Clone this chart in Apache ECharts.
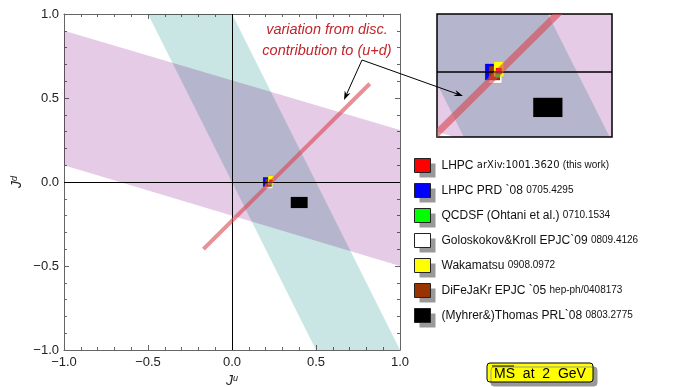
<!DOCTYPE html>
<html>
<head>
<meta charset="utf-8">
<script src="https://cdn.jsdelivr.net/npm/echarts@6/dist/echarts.min.js"></script>
<style>
html, body { margin: 0; padding: 0; background: #fff; }
#chart { width: 674px; height: 387px; }
</style>
</head>
<body>
<div id="chart"></div>
<script>
var chart = echarts.init(document.getElementById('chart'));

// bands (corners in J^u, J^d)
var magentaU = [-1, 1, 1, -1];
var magentaD = [0.9, 0.31, -0.5, 0.1];
var cyanU = [-0.5, 0, 1, 0.5];
var cyanD = [1, 1, -1, -1];

// variation from disc. contribution
var lineU = [-0.17, 0.82];
var lineD = [-0.40, 0.585];

// points, in drawing order (centre and half widths)
var names = ['LHPC PRD `08', 'Goloskokov&Kroll EPJC`09', 'DiFeJaKr EPJC `05', 'Wakamatsu', 'QCDSF (Ohtani et al.)', 'LHPC', '(Myhrer&)Thomas PRL`08'];
var colors = ['#0000ff', '#ffffff', '#993300', '#ffff00', '#00ff00', '#ff0000', '#000000'];
var ju = [0.205, 0.22, 0.217, 0.232, 0.228, 0.232, 0.40];
var jd = [0.0, -0.025, -0.004, 0.01, -0.011, 0.004, -0.122];
var du = [0.02, 0.022, 0.019, 0.017, 0.008, 0.01, 0.05];
var dd = [0.028, 0.013, 0.024, 0.026, 0.008, 0.01, 0.033];

// legend
var legendNames = ['LHPC', 'LHPC PRD `08', 'QCDSF (Ohtani et al.)', 'Goloskokov&Kroll EPJC`09', 'Wakamatsu', 'DiFeJaKr EPJC `05', '(Myhrer&)Thomas PRL`08'];
var legendRefs = ['arXiv:1001.3620|(this work)', '0705.4295', '0710.1534', '0809.4126', '0908.0972', 'hep-ph/0408173', '0803.2775'];

var FONT = '"Liberation Sans", Arial, sans-serif';

function pairs(a, b) {
    return a.map(function (v, i) { return [v, b[i]]; });
}

function bandSeries(us, ds, color, xi, yi, zero) {
    var pts = pairs(us, ds);
    var s = {
        type: 'custom',
        xAxisIndex: xi,
        yAxisIndex: yi,
        clip: true,
        silent: true,
        blendMode: 'multiply',
        data: pts,
        renderItem: function (params, api) {
            if (params.dataIndex !== 0) return;
            return {
                type: 'polygon',
                shape: { points: pts.map(function (p) { return api.coord(p); }) },
                style: { fill: color }
            };
        }
    };
    if (zero) {
        s.markLine = {
            silent: true,
            symbol: 'none',
            label: { show: false },
            lineStyle: { color: '#000', type: 'solid', width: zero },
            data: xi === 0 ? [{ xAxis: 0 }, { yAxis: 0 }] : [{ yAxis: 0 }]
        };
    }
    return s;
}

function pointSeries(i, xi, yi) {
    return {
        type: 'custom',
        name: names[i],
        xAxisIndex: xi,
        yAxisIndex: yi,
        clip: true,
        itemStyle: { color: colors[i] },
        data: [[ju[i], jd[i], du[i], dd[i]]],
        renderItem: function (params, api) {
            var a = api.coord([api.value(0) - api.value(2), api.value(1) + api.value(3)]);
            var b = api.coord([api.value(0) + api.value(2), api.value(1) - api.value(3)]);
            return {
                type: 'rect',
                shape: { x: a[0], y: a[1], width: b[0] - a[0], height: b[1] - a[1] },
                style: { fill: api.visual('color'), stroke: 'rgba(0,0,0,0.15)', lineWidth: 0.5 }
            };
        }
    };
}

function lineSeries(xi, yi, w) {
    var pts = pairs(lineU, lineD);
    return {
        type: 'custom',
        xAxisIndex: xi,
        yAxisIndex: yi,
        clip: true,
        silent: true,
        z: 5,
        data: pts,
        renderItem: function (params, api) {
            if (params.dataIndex !== 0) return;
            return {
                type: 'polyline',
                shape: { points: pts.map(function (p) { return api.coord(p); }) },
                style: { fill: 'none', stroke: 'rgba(215,70,80,0.6)', lineWidth: w }
            };
        }
    };
}

function arrow(x1, y1, x2, y2) {
    var dx = x2 - x1, dy = y2 - y1, L = Math.sqrt(dx * dx + dy * dy);
    var ux = dx / L, uy = dy / L, h = 9, w = 3.2;
    var bx = x2 - ux * h, by = y2 - uy * h;
    return [{
        type: 'line', z: 100,
        shape: { x1: x1, y1: y1, x2: bx + ux * 3, y2: by + uy * 3 },
        style: { stroke: '#000', lineWidth: 1 }
    }, {
        type: 'polygon', z: 100,
        shape: { points: [[x2, y2], [bx - uy * w, by + ux * w], [bx + ux * 3, by + uy * 3], [bx + uy * w, by - ux * w]] },
        style: { fill: '#000' }
    }];
}

var tickFmt = function (v) {
    return (v < 0 ? '\u2212' : '') + Math.abs(v).toFixed(1);
};

function frameAxis(extra) {
    var ax = {
        type: 'value',
        gridIndex: 0,
        min: -1, max: 1, interval: 0.5,
        axisLine: { show: true, onZero: false, lineStyle: { color: '#666', width: 1 } },
        axisTick: { show: true, inside: true, length: 5, lineStyle: { color: '#666' } },
        minorTick: { show: true, splitNumber: 5, length: 3, lineStyle: { color: '#666' } },
        splitLine: { show: false },
        axisLabel: { show: false }
    };
    return Object.assign(ax, extra);
}

// two stacked legends: filled icons with shadow, then outlines on top
function legendLayer(outline) {
    var tc = outline ? 'transparent' : '#111';
    return {
        data: legendNames,
        orient: 'vertical',
        left: 409,
        top: 153,
        icon: 'rect',
        itemWidth: 16,
        itemHeight: 14,
        itemGap: 10,
        selectedMode: false,
        z: outline ? 6 : 5,
        itemStyle: outline
            ? { color: 'transparent', borderColor: '#222', borderWidth: 1 }
            : { borderColor: 'transparent', borderWidth: 1, shadowColor: '#999', shadowBlur: 0, shadowOffsetX: 5, shadowOffsetY: 5 },
        formatter: function (name) {
            var r = legendRefs[legendNames.indexOf(name)];
            if (r.indexOf('|') >= 0) {
                var p = r.split('|');
                return '{a|' + name + '} {c|' + p[0] + '} {b|' + p[1] + '}';
            }
            return '{a|' + name + '} {b|' + r + '}';
        },
        textStyle: {
            fontSize: 12,
            fontFamily: FONT,
            color: tc,
            padding: [0, 0, 0, 6],
            rich: {
                a: { fontSize: 12, fontFamily: FONT, color: tc, lineHeight: 14 },
                b: { fontSize: 10, fontFamily: FONT, color: tc, lineHeight: 14 },
                c: { fontSize: 10, fontFamily: '"DejaVu Sans", sans-serif', color: tc, lineHeight: 14 }
            }
        }
    };
}

var labelStyle = { show: true, color: '#222', fontSize: 13, fontFamily: FONT, formatter: tickFmt };
var nameRich = {
    j: { fontStyle: 'italic', fontSize: 14, fontFamily: FONT, color: '#222', lineHeight: 14 },
    s: { fontStyle: 'italic', fontSize: 9, fontFamily: FONT, color: '#222', lineHeight: 8, verticalAlign: 'top' }
};

var series = [
    bandSeries(cyanU, cyanD, '#c9e5e4', 0, 0, 0),
    bandSeries(magentaU, magentaD, '#e6cbe6', 0, 0, 1),
    bandSeries(cyanU, cyanD, '#c9e5e4', 2, 2, 0),
    bandSeries(magentaU, magentaD, '#e6cbe6', 2, 2, 1.5)
];
for (var i = 0; i < names.length; i++) {
    series.push(pointSeries(i, 0, 0));
    series.push(pointSeries(i, 2, 2));
}
series.push(lineSeries(0, 0, 4));
series.push(lineSeries(2, 2, 7));

var annFont = 'italic 14.5px "Liberation Sans", Arial, sans-serif';

var option = {
    backgroundColor: '#fff',
    animation: false,
    grid: [
        { left: 64, top: 14, width: 336, height: 336, outerBoundsMode: 'none', containLabel: false },
        { left: 437, top: 14, width: 175, height: 123, outerBoundsMode: 'none', show: true, borderColor: '#000', borderWidth: 1.5, backgroundColor: 'transparent' }
    ],
    xAxis: [
        frameAxis({
            position: 'bottom',
            axisLabel: Object.assign({ margin: 6 }, labelStyle),
            name: '{j|J}{s|u}',
            nameLocation: 'middle',
            nameGap: 24,
            nameTextStyle: { rich: nameRich }
        }),
        frameAxis({ position: 'top' }),
        { type: 'value', gridIndex: 1, min: 0.02, max: 0.62, show: false, splitLine: { show: false } }
    ],
    yAxis: [
        frameAxis({
            position: 'left',
            axisLabel: Object.assign({ margin: 5 }, labelStyle),
            name: '{j|J}{s|d}',
            nameLocation: 'middle',
            nameGap: 40,
            nameTextStyle: { rich: nameRich }
        }),
        frameAxis({ position: 'right' }),
        { type: 'value', gridIndex: 1, min: -0.224, max: 0.2, show: false, splitLine: { show: false } }
    ],
    legend: [legendLayer(false), legendLayer(true)],
    graphic: [
        {
            type: 'text', z: 100, x: 327, y: 30,
            style: { text: 'variation from disc.', fill: '#c0262c', font: annFont, textAlign: 'center', textVerticalAlign: 'middle' }
        },
        {
            type: 'text', z: 100, x: 327, y: 51,
            style: { text: 'contribution to (u+d)', fill: '#c0262c', font: annFont, textAlign: 'center', textVerticalAlign: 'middle' }
        },
        {
            type: 'rect', z: 100,
            shape: { x: 487, y: 363, width: 106, height: 19, r: 3 },
            style: { fill: '#ffff00', stroke: '#000', lineWidth: 1, shadowColor: '#999', shadowBlur: 0, shadowOffsetX: 4, shadowOffsetY: 4 }
        },
        {
            type: 'text', z: 101, x: 540, y: 374,
            style: { text: 'MS  at  2  GeV', fill: '#000', font: '14px "Liberation Sans", Arial, sans-serif', textAlign: 'center', textVerticalAlign: 'middle' }
        },
        {
            type: 'line', z: 101,
            shape: { x1: 492, y1: 366, x2: 514, y2: 366 },
            style: { stroke: '#000', lineWidth: 1 }
        }
    ].concat(arrow(362, 60, 344, 100), arrow(362, 60, 463, 96)),
    series: series
};

chart.setOption(option);
</script>
</body>
</html>
